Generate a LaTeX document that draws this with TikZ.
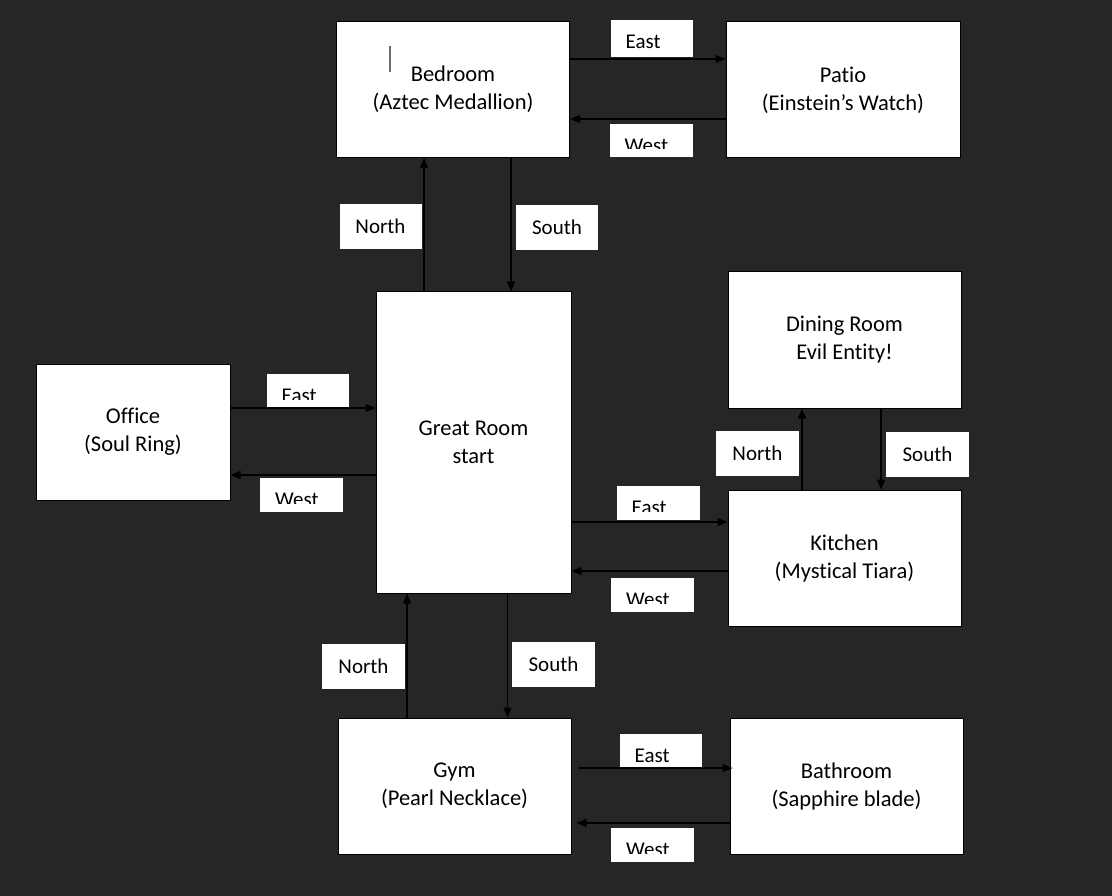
\documentclass[tikz,border=0pt]{standalone}
\usepackage{fontspec}
\setmainfont{Carlito}[Ligatures={TeX,NoCommon}]
\usetikzlibrary{arrows.meta,calc}
\definecolor{cBack}{HTML}{262626}
\definecolor{cCaret}{HTML}{6E6E6E}
\newcommand{\roomfont}{\fontsize{22.5}{28}\selectfont}
\newcommand{\dirfont}{\fontsize{21}{25}\selectfont}
\tikzset{
  cutgap/.store in = \cutgap, cutgap = 8.5pt,
  room/.style   = {draw=black, line width=1pt, fill=white, align=center,
                   font=\roomfont, inner sep=0pt,
                   minimum width=233, minimum height=136},
  dir/.style    = {fill=white, inner sep=0pt, font=\dirfont,
                   minimum width=82, minimum height=45},
  cutdir/.style = {fill=white, inner sep=0pt,
                   minimum width=82, minimum height=34,
                   path picture={
                     \clip (path picture bounding box.north west) rectangle
                       ($(path picture bounding box.south east)+(0pt,\cutgap)$);
                     \node[font=\dirfont, anchor=base west, inner sep=0pt,
                           minimum width=0pt, minimum height=0pt]
                       at ($(path picture bounding box.north west)+(15pt,-28.5pt)$) {#1};}},
  go/.style     = {-{Triangle[length=10pt, width=8pt]}, line width=1.2pt, draw=black},
}
\begin{document}
\begin{tikzpicture}[x=1pt, y=-1pt]
  \useasboundingbox (0,0) rectangle (1112,896);
  \fill[cBack] (0,0) rectangle (1112,896);
  % rooms
  \node[room] (bed) at (453,89.5) {Bedroom\\(Aztec Medallion)};
  \node[room, minimum width=234] (pat) at (843,90) {Patio\\(Einstein's Watch)};
  \node[room, minimum width=195, minimum height=301] (grt) at (473.5,442.5) {Great Room\\start};
  \node[room, minimum width=194] (off) at (133,432) {Office\\(Soul Ring)};
  \node[room] (din) at (844.5,340) {Dining Room\\Evil Entity!};
  \node[room] (kit) at (844.5,558) {Kitchen\\(Mystical Tiara)};
  \node[room] (gym) at (454.5,786) {Gym\\(Pearl Necklace)};
  \node[room] (bth) at (846.5,786) {Bathroom\\(Sapphire blade)};
  \draw[cCaret, line width=1.5pt] (390,46) -- (390,72);
  % direction labels
  \node[cutdir=East, minimum height=37] (eBP) at (651.5,38.5) {};
  \node[cutdir=West, minimum width=83, minimum height=33] (wPB) at (651,140.5) {};
  \node[dir] (nGB) at (380.5,226.5) {North};
  \node[dir] (sBG) at (557,227.5) {South};
  \node[cutdir=East] (eOG) at (307.5,391) {};
  \node[cutdir=West, minimum width=83] (wGO) at (301.5,495) {};
  \node[dir, minimum width=83] (nKD) at (757.5,453) {North};
  \node[dir, minimum width=83] (sDK) at (927.5,454) {South};
  \node[cutdir=East, minimum width=83] (eGK) at (658,502.5) {};
  \node[cutdir=West, minimum width=83] (wKG) at (652.5,594.5) {};
  \node[dir, minimum width=83] (nYG) at (363.5,666.5) {North};
  \node[dir, minimum width=83] (sGY) at (553.5,664) {South};
  \node[cutdir=East, cutgap=5pt] (eYB) at (660.5,751) {};
  \node[cutdir=West, minimum width=83] (wBY) at (652.5,845) {};
  % moves
  \draw[go] (bed.east |- 0,59) -- (pat.west |- 0,59);
  \draw[go] (pat.west |- 0,119) -- (bed.east |- 0,119);
  \draw[go] (424,0 |- grt.north) -- (424,0 |- bed.south);
  \draw[go] (511,0 |- bed.south) -- (511,0 |- grt.north);
  \draw[go] (off.east |- 0,408) -- (grt.west |- 0,408);
  \draw[go] (grt.west |- 0,475) -- (off.east |- 0,475);
  \draw[go] (802,0 |- kit.north) -- (802,0 |- din.south);
  \draw[go] (881,0 |- din.south) -- (881,0 |- kit.north);
  \draw[go] (grt.east |- 0,522) -- (kit.west |- 0,522);
  \draw[go] (kit.west |- 0,571) -- (grt.east |- 0,571);
  \draw[go] (407,0 |- gym.north) -- (407,0 |- grt.south);
  \draw[go] (507.5,0 |- grt.south) -- (507.5,0 |- gym.north);
  \draw[go, shorten <=7pt, shorten >=-3pt] (gym.east |- 0,768) -- (bth.west |- 0,768);
  \draw[go, shorten >=5pt] (bth.west |- 0,823) -- (gym.east |- 0,823);
\end{tikzpicture}
\end{document}
